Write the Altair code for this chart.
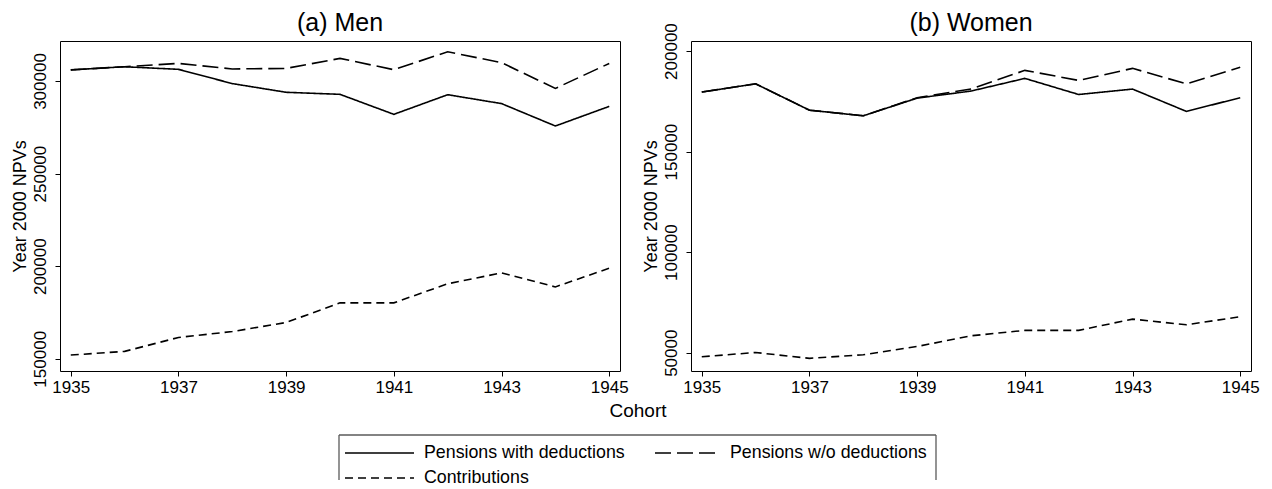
import altair as alt
import pandas as pd

years = list(range(1935, 1946))
series = ["Pensions with deductions", "Pensions w/o deductions", "Contributions"]

men_with = [306000, 307700, 306300, 298600, 293900, 292800, 282000, 292600, 287800, 275700, 286300]
men_without = [306000, 307700, 309500, 306500, 306800, 312200, 306100, 315800, 309900, 296000, 309500]
men_contrib = [152000, 154000, 161500, 164700, 169600, 180200, 180200, 190500, 196400, 188800, 198900]

women_with = [179600, 183700, 170600, 167800, 176600, 180100, 186400, 178400, 181100, 170000, 176800]
women_without = [179600, 183700, 170600, 167800, 176800, 181100, 190400, 185400, 191400, 183700, 191900]
women_contrib = [48000, 50100, 47200, 49000, 53100, 58400, 61100, 61100, 66700, 63900, 67900]

x_ticks = [1935, 1937, 1939, 1941, 1943, 1945]
men_ticks = [150000, 200000, 250000, 300000]
women_ticks = [50000, 100000, 150000, 200000]

FONT = "Liberation Sans"
dash_scale = alt.Scale(domain=series, range=[[1, 0], [16, 6], [8, 5]])


def long_df(a, b, c):
    rows = []
    for s, vals in zip(series, [a, b, c]):
        for yr, v in zip(years, vals):
            rows.append({"Cohort": yr, "Value": v, "Series": s})
    return pd.DataFrame(rows)


def panel(df, title, ydomain, yticks, title_offset):
    return alt.Chart(df).mark_line(color="black", strokeWidth=1.6).encode(
        x=alt.X("Cohort:Q",
                scale=alt.Scale(domain=[1934.8, 1945.2], nice=False, zero=False),
                axis=alt.Axis(values=x_ticks, format="d", title=None, labelFlush=False,
                              labelOverlap=False, labelPadding=3)),
        y=alt.Y("Value:Q",
                scale=alt.Scale(domain=ydomain, nice=False, zero=False),
                axis=alt.Axis(values=yticks, format="d", title="Year 2000 NPVs",
                              labelAngle=-90, labelAlign="center", labelBaseline="bottom",
                              labelPadding=6, titlePadding=2, labelOverlap=False)),
        strokeDash=alt.StrokeDash("Series:N", scale=dash_scale, legend=None),
        detail="Series:N",
    ).properties(
        width=560, height=330,
        title=alt.TitleParams(title, fontSize=25, font=FONT, fontWeight="normal",
                              color="black", anchor="middle", offset=title_offset,
                              frame="group"),
        view=alt.ViewBackground(stroke="black", strokeWidth=1),
    )


men = panel(long_df(men_with, men_without, men_contrib), "(a) Men",
            [143400, 321600], men_ticks, 5)
women = panel(long_df(women_with, women_without, women_contrib), "(b) Women",
              [40900, 205000], women_ticks, -13)

# ---- legend panel (pixel coordinates inside its own view; origin aligned with left plot) ----
OX, OY = 58, 395  # page position of legend panel origin
LW, LH = 880, 84

leg = pd.DataFrame({
    "Series": series,
    "x0": [343 - OX, 653 - OX, 343 - OX],
    "x1": [412 - OX, 719 - OX, 412 - OX],
    "xt": [422 - OX, 728 - OX, 422 - OX],
    "y": [452 - OY, 452 - OY, 477 - OY],
})
box = pd.DataFrame({
    "x": [337 - OX, 337 - OX, 934 - OX],
    "x2": [934 - OX, 337 - OX, 934 - OX],
    "y": [434 - OY, 434 - OY, 434 - OY],
    "y2": [434 - OY, LH, LH],
})
cohort = pd.DataFrame({"t": ["Cohort"], "x": [636 - OX], "y": [410 - OY]})

box_layer = alt.Chart(box).mark_rule(color="#5a5a5a", strokeWidth=1.3).encode(
    x=alt.X("x:Q", scale=None), x2="x2:Q", y=alt.Y("y:Q", scale=None), y2="y2:Q")
sym_layer = alt.Chart(leg).mark_rule(color="black", strokeWidth=1.6).encode(
    x=alt.X("x0:Q", scale=None), x2="x1:Q", y=alt.Y("y:Q", scale=None),
    strokeDash=alt.StrokeDash("Series:N", scale=dash_scale, legend=None))
txt_layer = alt.Chart(leg).mark_text(align="left", baseline="middle", fontSize=17.8,
                                     font=FONT, color="black").encode(
    x=alt.X("xt:Q", scale=None), y=alt.Y("y:Q", scale=None), text="Series:N")
cohort_layer = alt.Chart(cohort).mark_text(align="center", baseline="middle", fontSize=19,
                                           font=FONT, color="black").encode(
    x=alt.X("x:Q", scale=None), y=alt.Y("y:Q", scale=None), text="t:N")

legend = alt.layer(box_layer, sym_layer, txt_layer, cohort_layer).properties(
    width=LW, height=LH, view=alt.ViewBackground(strokeOpacity=0))

chart = alt.vconcat(
    alt.hconcat(men, women, spacing=12),
    legend,
    spacing=0,
).properties(
    padding={"left": 2, "top": 2, "right": 0, "bottom": 0},
).configure_axis(
    labelFont=FONT, titleFont=FONT, labelFontSize=17, titleFontSize=18,
    titleFontWeight="normal", labelColor="black", titleColor="black",
    tickColor="black", tickSize=5, tickWidth=1, domain=False, grid=False,
)

chart.save("out.html", embed_options={"renderer": "svg", "actions": False})
